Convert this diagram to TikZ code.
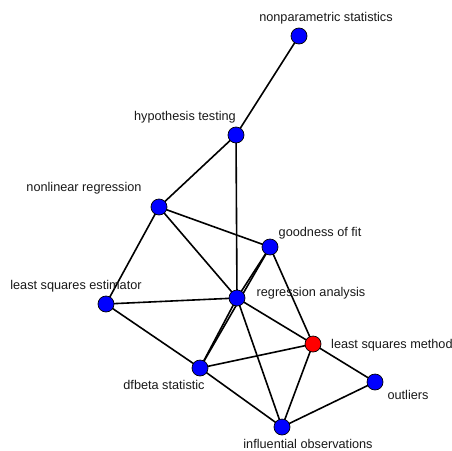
\documentclass[tikz,border=0pt]{standalone}
\usepackage{fontspec}
\setmainfont{Liberation Sans}
\begin{document}
\begin{tikzpicture}[x=1pt,y=-1pt,
  vtx/.style={circle,draw=black,line width=0.7pt,fill=blue,minimum size=16pt,inner sep=0pt},
  red vtx/.style={vtx,fill=red},
  lbl/.style={font=\fontsize{12.7}{14}\selectfont,text=black!90,inner sep=0pt},
  edge/.style={line width=1.6pt,black}]
\useasboundingbox (0,0) rectangle (452,450);
\fill[white] (0,0) rectangle (452,450);
% vertex positions
\coordinate (np) at (299,36);
\coordinate (ht) at (236,135);
\coordinate (nl) at (159,207);
\coordinate (gf) at (270,247);
\coordinate (lse) at (106,304);
\coordinate (ra) at (237,298);
\coordinate (lsm) at (313,344);
\coordinate (df) at (200,368);
\coordinate (ou) at (375,382);
\coordinate (io) at (282,427);
% edges
\draw[edge] (np) -- (ht);
\draw[edge] (ht) -- (nl);
\draw[edge] (ht) -- (ra);
\draw[edge] (nl) -- (gf);
\draw[edge] (nl) -- (ra);
\draw[edge] (nl) -- (lse);
\draw[edge] (lse) -- (ra);
\draw[edge] (lse) -- (df);
\draw[edge] (gf) -- (ra);
\draw[edge] (gf) -- (df);
\draw[edge] (gf) -- (lsm);
\draw[edge] (ra) -- (df);
\draw[edge] (ra) -- (lsm);
\draw[edge] (ra) -- (io);
\draw[edge] (df) -- (lsm);
\draw[edge] (df) -- (io);
\draw[edge] (lsm) -- (io);
\draw[edge] (lsm) -- (ou);
\draw[edge] (ou) -- (io);
% vertices
\node[vtx] (vnp) at (np) {};
\node[vtx] (vht) at (ht) {};
\node[vtx] (vnl) at (nl) {};
\node[vtx] (vgf) at (gf) {};
\node[vtx] (vlse) at (lse) {};
\node[vtx] (vra) at (ra) {};
\node[red vtx] (vlsm) at (lsm) {};
\node[vtx] (vdf) at (df) {};
\node[vtx] (vou) at (ou) {};
\node[vtx] (vio) at (io) {};
% labels
\node[lbl] (lnp) at (326,18) {nonparametric statistics};
\node[lbl] (lht) at (185,117) {hypothesis testing};
\node[lbl] (lnl) at (84,188) {nonlinear regression};
\node[lbl] (lgf) at (320,233) {goodness of fit};
\node[lbl] (llse) at (76,286) {least squares estimator};
\node[lbl] (lra) at (311,293) {regression analysis};
\node[lbl,anchor=west] (llsm) at (331,345) {least squares method};
\node[lbl] (ldf) at (164,385) {dfbeta statistic};
\node[lbl] (lou) at (408,395) {outliers};
\node[lbl] (lio) at (308,444) {influential observations};
\end{tikzpicture}
\end{document}
